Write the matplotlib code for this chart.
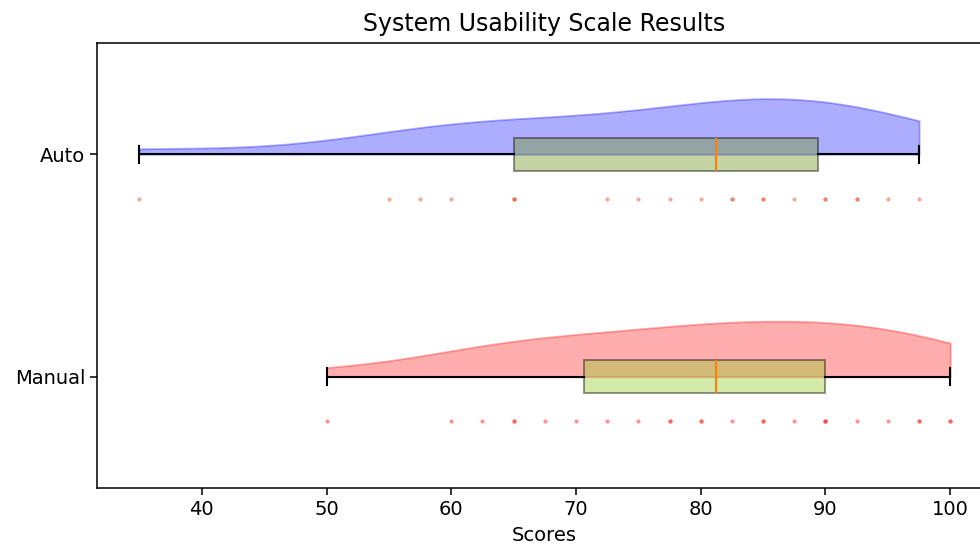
import numpy as np
import matplotlib.pyplot as plt

# SUS scores per condition
labels = ['Manual', 'Auto']
manual_scores = [50, 60, 62.5, 65, 65, 67.5, 70, 72.5, 75, 77.5, 77.5, 80, 80,
                 82.5, 85, 85, 87.5, 90, 90, 90, 92.5, 95, 97.5, 97.5, 100, 100]
auto_scores = [35, 55, 57.5, 60, 65, 65, 65, 72.5, 75, 77.5, 80, 82.5, 82.5,
               85, 85, 87.5, 90, 90, 92.5, 92.5, 95, 97.5]
data = [manual_scores, auto_scores]
positions = [1, 2]

violin_colors = ['red', 'blue']
box_colors = ['yellowgreen', '#729628']
dot_colors = ['#ff3b3b', '#e4663f']

plt.rcParams['font.size'] = 14
plt.rcParams['axes.linewidth'] = 1.1

fig = plt.figure(figsize=(9.8, 5.5), dpi=100)
ax = fig.add_axes([0.099, 0.1127, 0.912, 0.8091])

# half violins (upper half only)
parts = ax.violinplot(data, positions=positions, widths=0.5,
                      showextrema=False, orientation='horizontal')
for body, pos, col in zip(parts['bodies'], positions, violin_colors):
    verts = body.get_paths()[0].vertices
    verts[:, 1] = np.clip(verts[:, 1], pos, np.inf)
    body.set_facecolor(col)
    body.set_edgecolor(col)
    body.set_alpha(0.32)
    body.set_linewidth(1.3)

# boxplots
bp = ax.boxplot(data, positions=positions, widths=0.15, patch_artist=True,
                orientation='horizontal', showfliers=False)
for patch, col in zip(bp['boxes'], box_colors):
    patch.set_facecolor(col)
    patch.set_alpha(0.42)
    patch.set_edgecolor('black')
    patch.set_linewidth(1.4)
for line in bp['whiskers'] + bp['caps']:
    line.set_linewidth(1.5)
for line in bp['medians']:
    line.set_color('tab:orange')
    line.set_linewidth(1.5)

# rain (scores as dots below each box)
for vals, pos, col in zip(data, positions, dot_colors):
    ax.scatter(vals, [pos - 0.2] * len(vals), s=9, color=col, alpha=0.55,
               linewidths=0)

ax.set_yticks(positions)
ax.set_yticklabels(labels)
ax.set_ylim(0.5, 2.5)
ax.set_xlim(31.6, 103.25)
ax.set_xticks([40, 50, 60, 70, 80, 90, 100])
ax.tick_params(length=5, width=1.1)
ax.set_xlabel('Scores', labelpad=5)
ax.set_title('System Usability Scale Results', fontsize=17, pad=9)

fig.savefig('out.png', dpi=100)
